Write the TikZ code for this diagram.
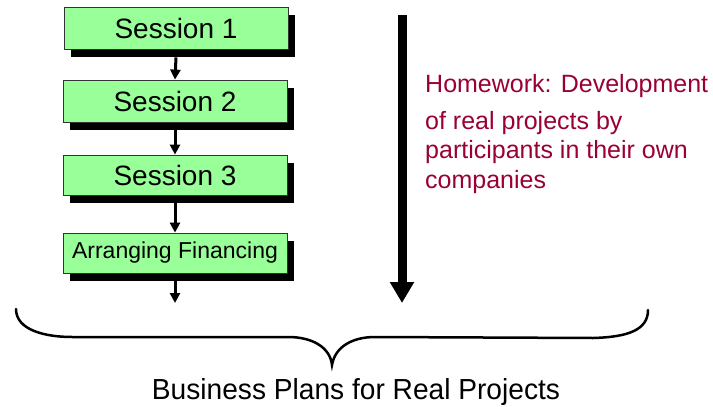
\documentclass[tikz,border=0pt]{standalone}
\usepackage{fontspec}
\setmainfont{Liberation Sans}
\usetikzlibrary{arrows.meta,shadows}
\definecolor{boxgreen}{RGB}{153,255,153}
\definecolor{hwred}{RGB}{153,0,51}
\tikzset{
  sessbox/.style={draw=black!80, line width=0.8pt, fill=boxgreen, rectangle, inner sep=0pt,
    minimum width=224pt, general shadow={fill=black, shadow xshift=7pt, shadow yshift=-8pt},
    font=\fontsize{28}{30}\selectfont},
  smallarrow/.style={line width=3pt, -{Triangle[length=10pt,width=10pt]}},
  bigarrow/.style={line width=9pt, -{Triangle[length=21pt,width=23pt]}},
  hwtext/.style={anchor=base west, inner sep=0pt, text=hwred, font=\fontsize{25}{29}\selectfont},
  bracestyle/.style={line width=2.5pt, line cap=round}
}
\begin{document}
\begin{tikzpicture}[x=1pt,y=-1pt]
\useasboundingbox (0,0) rectangle (713,407);
\node[sessbox, minimum height=42pt] (b1) at (176,28) {Session 1};
\node[sessbox, minimum height=42pt] (b2) at (175,101) {Session 2};
\node[sessbox, minimum height=40pt] (b3) at (175,175) {Session 3};
\node[sessbox, minimum height=40pt, font=\fontsize{23}{25}\selectfont] (b4) at (175,253) {Arranging Financing};
\draw[smallarrow] ([yshift=-8pt]b1.south) -- (b2.north);
\draw[smallarrow] ([yshift=-8pt]b2.south) -- (b3.north);
\draw[smallarrow] ([yshift=-8pt]b3.south) -- (b4.north);
\coordinate (e4) at (175,303);
\draw[smallarrow] ([yshift=-8pt]b4.south) -- (e4);
\coordinate (bigtop) at (402,15);
\coordinate (bigend) at (402,303);
\draw[bigarrow] (bigtop) -- (bigend);
\node[hwtext] (t1) at (425,92) {Homework: Development};
\node[hwtext] (t2) at (425,129) {of real projects by};
\node[hwtext] (t3) at (425,158) {participants in their own};
\node[hwtext] (t4) at (425,188) {companies};
\draw[bracestyle] (16,309) .. controls (16,330) and (45,337) .. (72,337)
  -- (288,337) .. controls (312,337) and (330,347) .. (332,365)
  .. controls (335,347) and (352,337) .. (375,337)
  -- (593,338) .. controls (628,337) and (648,330) .. (648,310);
\node[anchor=base, inner sep=0pt, font=\fontsize{29}{31}\selectfont, xscale=0.97] (bp) at (356,399) {Business Plans for Real Projects};
\end{tikzpicture}
\end{document}
